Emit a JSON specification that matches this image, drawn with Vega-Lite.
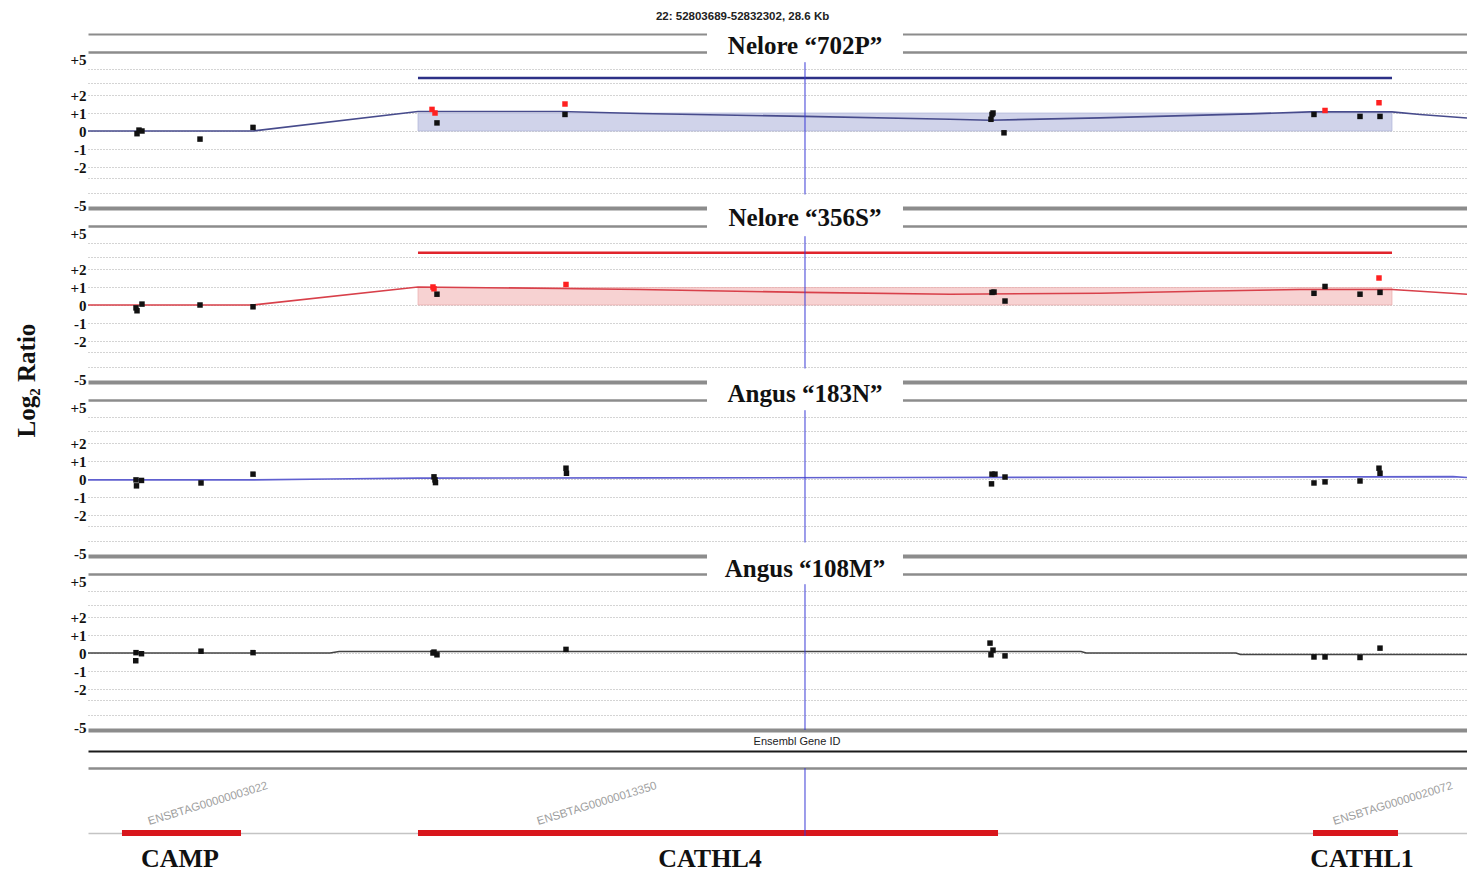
{
  "$schema": "https://vega.github.io/schema/vega-lite/v6.json",
  "padding": {"left": 14, "top": 10, "right": 0, "bottom": 0},
  "background": "white",
  "config": {"view": {"stroke": null}},
  "datasets": {
    "panels": [
      {"sample": "702P", "title": "Nelore “702P”", "cursor": 52818566},
      {"sample": "356S", "title": "Nelore “356S”", "cursor": 52818566},
      {"sample": "183N", "title": "Angus “183N”", "cursor": 52818566},
      {"sample": "108M", "title": "Angus “108M”", "cursor": 52818566}
    ],
    "track": [{"label": "Ensembl Gene ID", "pos": 52818400, "cursor": 52818566}],
    "aberrations": [
      {"sample": "702P", "start": 52810536, "end": 52830746, "top": 1.0, "level": 3.36},
      {"sample": "356S", "start": 52810536, "end": 52830746, "top": 0.97, "level": 3.3}
    ],
    "genes": [
      {"gene": "CAMP", "ensembl": "ENSBTAG00000003022", "start": 52804394, "end": 52806864, "mid": 52805598, "idPos": 52806179},
      {"gene": "CATHL4", "ensembl": "ENSBTAG00000013350", "start": 52810536, "end": 52822571, "mid": 52816595, "idPos": 52814250},
      {"gene": "CATHL1", "ensembl": "ENSBTAG00000020072", "start": 52829107, "end": 52830870, "mid": 52830123, "idPos": 52830766}
    ],
    "segments": [
      {"sample": "702P", "pos": 52803689, "seg": 0},
      {"sample": "702P", "pos": 52807113, "seg": 0},
      {"sample": "702P", "pos": 52810536, "seg": 1.08},
      {"sample": "702P", "pos": 52813483, "seg": 1.08},
      {"sample": "702P", "pos": 52815142, "seg": 0.97},
      {"sample": "702P", "pos": 52818566, "seg": 0.81},
      {"sample": "702P", "pos": 52821575, "seg": 0.65},
      {"sample": "702P", "pos": 52822405, "seg": 0.6},
      {"sample": "702P", "pos": 52824687, "seg": 0.73},
      {"sample": "702P", "pos": 52827799, "seg": 0.95},
      {"sample": "702P", "pos": 52829044, "seg": 1.06},
      {"sample": "702P", "pos": 52830746, "seg": 1.06},
      {"sample": "702P", "pos": 52831327, "seg": 0.92},
      {"sample": "702P", "pos": 52832302, "seg": 0.72},
      {"sample": "356S", "pos": 52803689, "seg": 0},
      {"sample": "356S", "pos": 52807113, "seg": 0},
      {"sample": "356S", "pos": 52810536, "seg": 1.0},
      {"sample": "356S", "pos": 52813483, "seg": 0.92},
      {"sample": "356S", "pos": 52815142, "seg": 0.86},
      {"sample": "356S", "pos": 52818566, "seg": 0.7},
      {"sample": "356S", "pos": 52821575, "seg": 0.6},
      {"sample": "356S", "pos": 52824687, "seg": 0.65},
      {"sample": "356S", "pos": 52826762, "seg": 0.76},
      {"sample": "356S", "pos": 52828837, "seg": 0.86},
      {"sample": "356S", "pos": 52830746, "seg": 0.86},
      {"sample": "356S", "pos": 52831327, "seg": 0.76},
      {"sample": "356S", "pos": 52832302, "seg": 0.6},
      {"sample": "183N", "pos": 52803689, "seg": -0.05},
      {"sample": "183N", "pos": 52807113, "seg": -0.05},
      {"sample": "183N", "pos": 52808710, "seg": 0.0},
      {"sample": "183N", "pos": 52810536, "seg": 0.05},
      {"sample": "183N", "pos": 52815142, "seg": 0.06},
      {"sample": "183N", "pos": 52820537, "seg": 0.08},
      {"sample": "183N", "pos": 52825932, "seg": 0.1},
      {"sample": "183N", "pos": 52832011, "seg": 0.13},
      {"sample": "183N", "pos": 52832302, "seg": 0.08},
      {"sample": "108M", "pos": 52803689, "seg": 0},
      {"sample": "108M", "pos": 52808710, "seg": 0},
      {"sample": "108M", "pos": 52808900, "seg": 0.08},
      {"sample": "108M", "pos": 52824293, "seg": 0.08},
      {"sample": "108M", "pos": 52824400, "seg": 0.0},
      {"sample": "108M", "pos": 52827509, "seg": 0.0},
      {"sample": "108M", "pos": 52827600, "seg": -0.08},
      {"sample": "108M", "pos": 52832302, "seg": -0.08}
    ],
    "probes": [
      {"sample": "702P", "pos": 52804706, "log2": -0.15, "status": "normal"},
      {"sample": "702P", "pos": 52804747, "log2": 0.05, "status": "normal"},
      {"sample": "702P", "pos": 52804809, "log2": 0.0, "status": "normal"},
      {"sample": "702P", "pos": 52806013, "log2": -0.45, "status": "normal"},
      {"sample": "702P", "pos": 52807113, "log2": 0.2, "status": "normal"},
      {"sample": "702P", "pos": 52810827, "log2": 1.2, "status": "gain"},
      {"sample": "702P", "pos": 52810889, "log2": 1.0, "status": "gain"},
      {"sample": "702P", "pos": 52810930, "log2": 0.45, "status": "normal"},
      {"sample": "702P", "pos": 52813586, "log2": 1.5, "status": "gain"},
      {"sample": "702P", "pos": 52813586, "log2": 0.92, "status": "normal"},
      {"sample": "702P", "pos": 52822425, "log2": 0.65, "status": "normal"},
      {"sample": "702P", "pos": 52822446, "log2": 0.92, "status": "normal"},
      {"sample": "702P", "pos": 52822467, "log2": 1.0, "status": "normal"},
      {"sample": "702P", "pos": 52822695, "log2": -0.1, "status": "normal"},
      {"sample": "702P", "pos": 52829127, "log2": 0.92, "status": "normal"},
      {"sample": "702P", "pos": 52829356, "log2": 1.14, "status": "gain"},
      {"sample": "702P", "pos": 52830082, "log2": 0.81, "status": "normal"},
      {"sample": "702P", "pos": 52830476, "log2": 1.57, "status": "gain"},
      {"sample": "702P", "pos": 52830497, "log2": 0.81, "status": "normal"},
      {"sample": "356S", "pos": 52804685, "log2": -0.16, "status": "normal"},
      {"sample": "356S", "pos": 52804706, "log2": -0.32, "status": "normal"},
      {"sample": "356S", "pos": 52804809, "log2": 0.05, "status": "normal"},
      {"sample": "356S", "pos": 52806013, "log2": 0.0, "status": "normal"},
      {"sample": "356S", "pos": 52807113, "log2": -0.1, "status": "normal"},
      {"sample": "356S", "pos": 52810847, "log2": 1.0, "status": "gain"},
      {"sample": "356S", "pos": 52810868, "log2": 0.9, "status": "gain"},
      {"sample": "356S", "pos": 52810930, "log2": 0.6, "status": "normal"},
      {"sample": "356S", "pos": 52813607, "log2": 1.14, "status": "gain"},
      {"sample": "356S", "pos": 52822446, "log2": 0.7, "status": "normal"},
      {"sample": "356S", "pos": 52822488, "log2": 0.72, "status": "normal"},
      {"sample": "356S", "pos": 52822716, "log2": 0.22, "status": "normal"},
      {"sample": "356S", "pos": 52829127, "log2": 0.65, "status": "normal"},
      {"sample": "356S", "pos": 52829356, "log2": 1.03, "status": "normal"},
      {"sample": "356S", "pos": 52830082, "log2": 0.6, "status": "normal"},
      {"sample": "356S", "pos": 52830476, "log2": 1.5, "status": "gain"},
      {"sample": "356S", "pos": 52830497, "log2": 0.7, "status": "normal"},
      {"sample": "183N", "pos": 52804685, "log2": -0.05, "status": "normal"},
      {"sample": "183N", "pos": 52804695, "log2": -0.38, "status": "normal"},
      {"sample": "183N", "pos": 52804799, "log2": -0.08, "status": "normal"},
      {"sample": "183N", "pos": 52806034, "log2": -0.22, "status": "normal"},
      {"sample": "183N", "pos": 52807113, "log2": 0.27, "status": "normal"},
      {"sample": "183N", "pos": 52810868, "log2": 0.12, "status": "normal"},
      {"sample": "183N", "pos": 52810889, "log2": -0.05, "status": "normal"},
      {"sample": "183N", "pos": 52810899, "log2": -0.2, "status": "normal"},
      {"sample": "183N", "pos": 52813607, "log2": 0.6, "status": "normal"},
      {"sample": "183N", "pos": 52813617, "log2": 0.32, "status": "normal"},
      {"sample": "183N", "pos": 52822446, "log2": 0.27, "status": "normal"},
      {"sample": "183N", "pos": 52822508, "log2": 0.27, "status": "normal"},
      {"sample": "183N", "pos": 52822436, "log2": -0.27, "status": "normal"},
      {"sample": "183N", "pos": 52822716, "log2": 0.11, "status": "normal"},
      {"sample": "183N", "pos": 52829127, "log2": -0.22, "status": "normal"},
      {"sample": "183N", "pos": 52829356, "log2": -0.16, "status": "normal"},
      {"sample": "183N", "pos": 52830082, "log2": -0.11, "status": "normal"},
      {"sample": "183N", "pos": 52830476, "log2": 0.6, "status": "normal"},
      {"sample": "183N", "pos": 52830497, "log2": 0.32, "status": "normal"},
      {"sample": "108M", "pos": 52804685, "log2": 0.02, "status": "normal"},
      {"sample": "108M", "pos": 52804680, "log2": -0.43, "status": "normal"},
      {"sample": "108M", "pos": 52804799, "log2": -0.04, "status": "normal"},
      {"sample": "108M", "pos": 52806034, "log2": 0.1, "status": "normal"},
      {"sample": "108M", "pos": 52807113, "log2": 0.02, "status": "normal"},
      {"sample": "108M", "pos": 52810847, "log2": 0.0, "status": "normal"},
      {"sample": "108M", "pos": 52810868, "log2": 0.05, "status": "normal"},
      {"sample": "108M", "pos": 52810930, "log2": -0.1, "status": "normal"},
      {"sample": "108M", "pos": 52813607, "log2": 0.2, "status": "normal"},
      {"sample": "108M", "pos": 52822405, "log2": 0.55, "status": "normal"},
      {"sample": "108M", "pos": 52822467, "log2": 0.16, "status": "normal"},
      {"sample": "108M", "pos": 52822425, "log2": -0.1, "status": "normal"},
      {"sample": "108M", "pos": 52822716, "log2": -0.16, "status": "normal"},
      {"sample": "108M", "pos": 52829127, "log2": -0.22, "status": "normal"},
      {"sample": "108M", "pos": 52829356, "log2": -0.22, "status": "normal"},
      {"sample": "108M", "pos": 52830082, "log2": -0.25, "status": "normal"},
      {"sample": "108M", "pos": 52830497, "log2": 0.27, "status": "normal"}
    ]
  },
  "title": {"text": "22: 52803689-52832302, 28.6 Kb", "font": "Liberation Sans", "fontSize": 11.5, "fontWeight": "bold", "color": "#222222", "anchor": "middle", "offset": 5},
  "vconcat": [
    {
      "title": {"text": "Log₂ Ratio", "orient": "left", "font": "Liberation Serif", "fontSize": 25, "fontWeight": "bold", "color": "#111111", "anchor": "middle", "offset": 30, "dx": 69},
      "spacing": 0,
      "bounds": "flush",
      "resolve": {"scale": {"x": "independent", "y": "independent"}},
      "vconcat": [
        {
          "width": 1379, "height": 174,
          "layer": [
            {"data": {"name": "aberrations"}, "transform": [{"filter": "datum.sample == '702P'"}],
             "mark": {"type": "rect", "fill": "#d0d3ea", "stroke": "#a6abd4", "strokeWidth": 0.6},
             "encoding": {
               "x": {"field": "start", "type": "quantitative", "scale": {"domain": [52803689, 52832302], "nice": false, "zero": false}, "axis": null},
               "x2": {"field": "end"},
               "y": {"field": "top", "type": "quantitative", "scale": {"domain": [-5,-4,-3,-2,-1,0,1,2,3,4,5,6], "range": [174,159,144,133,115,97,79,61,49,35,18,0]}, "axis": {
                 "values": [-5,-4,-3,-2,-1,0,1,2,3,4,5,6], "tickCount": 50, "title": null, "domain": false, "ticks": false, "grid": true,
                 "labelExpr": "datum.value==5 ? '+5' : datum.value==2 ? '+2' : datum.value==1 ? '+1' : datum.value==0 ? '0' : datum.value==-1 ? '-1' : datum.value==-2 ? '-2' : datum.value==-5 ? '-5' : ''",
                 "labelFont": "Liberation Serif", "labelFontSize": 15, "labelFontWeight": "bold", "labelColor": "#111111", "labelPadding": 2, "labelOverlap": false, "labelBound": false, "labelFlush": false,
                 "labelOffset": {"condition": [{"test": "datum.value == 5", "value": 7}, {"test": "datum.value == -5", "value": -3}], "value": 0},
                 "gridColor": {"condition": {"test": "abs(datum.value) >= 5", "value": "#8c8c8c"}, "value": "#a8a8a8"},
                 "gridWidth": {"condition": [{"test": "datum.value == -5", "value": 4}, {"test": "datum.value == 5", "value": 2.5}, {"test": "datum.value == 6", "value": 2}], "value": 1},
                 "gridDash": {"condition": {"test": "abs(datum.value) >= 5", "value": []}, "value": [1, 2]}}},
               "y2": {"datum": 0}}},
            {"data": {"name": "aberrations"}, "transform": [{"filter": "datum.sample == '702P'"}],
             "mark": {"type": "rule", "color": "#2c3086", "strokeWidth": 2.5},
             "encoding": {"x": {"field": "start", "type": "quantitative", "axis": null}, "x2": {"field": "end"}, "y": {"field": "level", "type": "quantitative", "title": null}}},
            {"data": {"name": "segments"}, "transform": [{"filter": "datum.sample == '702P'"}],
             "mark": {"type": "line", "color": "#474b8c", "strokeWidth": 1.6},
             "encoding": {"x": {"field": "pos", "type": "quantitative", "axis": null}, "y": {"field": "seg", "type": "quantitative", "title": null}}},
            {"data": {"name": "probes"}, "transform": [{"filter": "datum.sample == '702P'"}],
             "mark": {"type": "point", "shape": "square", "filled": true, "size": 30, "opacity": 1},
             "encoding": {"x": {"field": "pos", "type": "quantitative", "axis": null}, "y": {"field": "log2", "type": "quantitative", "title": null},
               "color": {"field": "status", "type": "nominal", "scale": {"domain": ["normal", "gain"], "range": ["#111111", "#ff2020"]}, "legend": null}}},
            {"data": {"name": "panels"}, "transform": [{"filter": "datum.sample == '702P'"}],
             "mark": {"type": "rule", "color": "#3b3bd6", "strokeWidth": 1},
             "encoding": {"x": {"field": "cursor", "type": "quantitative", "axis": null}, "y": {"datum": 4.4, "title": null}, "y2": {"datum": -4.1}}},
            {"data": {"name": "panels"}, "transform": [{"filter": "datum.sample == '702P'"}],
             "mark": {"type": "point", "shape": "M-1,-0.133L1,-0.133L1,0.133L-1,0.133Z", "filled": true, "color": "white", "opacity": 1, "size": 38416, "strokeWidth": 0},
             "encoding": {"x": {"field": "cursor", "type": "quantitative", "axis": null}, "y": {"datum": 5.5, "title": null}}},
            {"data": {"name": "panels"}, "transform": [{"filter": "datum.sample == '702P'"}],
             "mark": {"type": "text", "font": "Liberation Serif", "fontSize": 25, "fontWeight": "bold", "color": "#111111", "baseline": "middle"},
             "encoding": {"x": {"field": "cursor", "type": "quantitative", "axis": null}, "y": {"datum": 5.35, "title": null}, "text": {"field": "title"}}}
          ]
        },
        {
          "width": 1379, "height": 174,
          "layer": [
            {"data": {"name": "aberrations"}, "transform": [{"filter": "datum.sample == '356S'"}],
             "mark": {"type": "rect", "fill": "#f7d2d2", "stroke": "#eaa2a2", "strokeWidth": 0.6},
             "encoding": {
               "x": {"field": "start", "type": "quantitative", "scale": {"domain": [52803689, 52832302], "nice": false, "zero": false}, "axis": null},
               "x2": {"field": "end"},
               "y": {"field": "top", "type": "quantitative", "scale": {"domain": [-5,-4,-3,-2,-1,0,1,2,3,4,5,6], "range": [174,159,144,133,115,97,79,61,49,35,18,0]}, "axis": {
                 "values": [-5,-4,-3,-2,-1,0,1,2,3,4,5], "tickCount": 50, "title": null, "domain": false, "ticks": false, "grid": true,
                 "labelExpr": "datum.value==5 ? '+5' : datum.value==2 ? '+2' : datum.value==1 ? '+1' : datum.value==0 ? '0' : datum.value==-1 ? '-1' : datum.value==-2 ? '-2' : datum.value==-5 ? '-5' : ''",
                 "labelFont": "Liberation Serif", "labelFontSize": 15, "labelFontWeight": "bold", "labelColor": "#111111", "labelPadding": 2, "labelOverlap": false, "labelBound": false, "labelFlush": false,
                 "labelOffset": {"condition": [{"test": "datum.value == 5", "value": 7}, {"test": "datum.value == -5", "value": -3}], "value": 0},
                 "gridColor": {"condition": {"test": "abs(datum.value) >= 5", "value": "#8c8c8c"}, "value": "#a8a8a8"},
                 "gridWidth": {"condition": [{"test": "datum.value == -5", "value": 4}, {"test": "datum.value == 5", "value": 2.5}], "value": 1},
                 "gridDash": {"condition": {"test": "abs(datum.value) >= 5", "value": []}, "value": [1, 2]}}},
               "y2": {"datum": 0}}},
            {"data": {"name": "aberrations"}, "transform": [{"filter": "datum.sample == '356S'"}],
             "mark": {"type": "rule", "color": "#e0242c", "strokeWidth": 2.5},
             "encoding": {"x": {"field": "start", "type": "quantitative", "axis": null}, "x2": {"field": "end"}, "y": {"field": "level", "type": "quantitative", "title": null}}},
            {"data": {"name": "segments"}, "transform": [{"filter": "datum.sample == '356S'"}],
             "mark": {"type": "line", "color": "#d8404a", "strokeWidth": 1.6},
             "encoding": {"x": {"field": "pos", "type": "quantitative", "axis": null}, "y": {"field": "seg", "type": "quantitative", "title": null}}},
            {"data": {"name": "probes"}, "transform": [{"filter": "datum.sample == '356S'"}],
             "mark": {"type": "point", "shape": "square", "filled": true, "size": 30, "opacity": 1},
             "encoding": {"x": {"field": "pos", "type": "quantitative", "axis": null}, "y": {"field": "log2", "type": "quantitative", "title": null},
               "color": {"field": "status", "type": "nominal", "scale": {"domain": ["normal", "gain"], "range": ["#111111", "#ff2020"]}, "legend": null}}},
            {"data": {"name": "panels"}, "transform": [{"filter": "datum.sample == '356S'"}],
             "mark": {"type": "rule", "color": "#3b3bd6", "strokeWidth": 1},
             "encoding": {"x": {"field": "cursor", "type": "quantitative", "axis": null}, "y": {"datum": 4.4, "title": null}, "y2": {"datum": -4.1}}},
            {"data": {"name": "panels"}, "transform": [{"filter": "datum.sample == '356S'"}],
             "mark": {"type": "point", "shape": "M-1,-0.133L1,-0.133L1,0.133L-1,0.133Z", "filled": true, "color": "white", "opacity": 1, "size": 38416, "strokeWidth": 0},
             "encoding": {"x": {"field": "cursor", "type": "quantitative", "axis": null}, "y": {"datum": 5.5, "title": null}}},
            {"data": {"name": "panels"}, "transform": [{"filter": "datum.sample == '356S'"}],
             "mark": {"type": "text", "font": "Liberation Serif", "fontSize": 25, "fontWeight": "bold", "color": "#111111", "baseline": "middle"},
             "encoding": {"x": {"field": "cursor", "type": "quantitative", "axis": null}, "y": {"datum": 5.45, "title": null}, "text": {"field": "title"}}}
          ]
        },
        {
          "width": 1379, "height": 174,
          "layer": [
            {"data": {"name": "segments"}, "transform": [{"filter": "datum.sample == '183N'"}],
             "mark": {"type": "line", "color": "#6060d0", "strokeWidth": 1.6},
             "encoding": {"x": {"field": "pos", "type": "quantitative", "scale": {"domain": [52803689, 52832302], "nice": false, "zero": false}, "axis": null},
               "y": {"field": "seg", "type": "quantitative", "scale": {"domain": [-5,-4,-3,-2,-1,0,1,2,3,4,5,6], "range": [174,159,144,133,115,97,79,61,49,35,18,0]}, "axis": {
                 "values": [-5,-4,-3,-2,-1,0,1,2,3,4,5], "tickCount": 50, "title": null, "domain": false, "ticks": false, "grid": true,
                 "labelExpr": "datum.value==5 ? '+5' : datum.value==2 ? '+2' : datum.value==1 ? '+1' : datum.value==0 ? '0' : datum.value==-1 ? '-1' : datum.value==-2 ? '-2' : datum.value==-5 ? '-5' : ''",
                 "labelFont": "Liberation Serif", "labelFontSize": 15, "labelFontWeight": "bold", "labelColor": "#111111", "labelPadding": 2, "labelOverlap": false, "labelBound": false, "labelFlush": false,
                 "labelOffset": {"condition": [{"test": "datum.value == 5", "value": 7}, {"test": "datum.value == -5", "value": -3}], "value": 0},
                 "gridColor": {"condition": {"test": "abs(datum.value) >= 5", "value": "#8c8c8c"}, "value": "#a8a8a8"},
                 "gridWidth": {"condition": [{"test": "datum.value == -5", "value": 4}, {"test": "datum.value == 5", "value": 2.5}], "value": 1},
                 "gridDash": {"condition": {"test": "abs(datum.value) >= 5", "value": []}, "value": [1, 2]}}}}},
            {"data": {"name": "probes"}, "transform": [{"filter": "datum.sample == '183N'"}],
             "mark": {"type": "point", "shape": "square", "filled": true, "size": 30, "opacity": 1},
             "encoding": {"x": {"field": "pos", "type": "quantitative", "axis": null}, "y": {"field": "log2", "type": "quantitative", "title": null},
               "color": {"field": "status", "type": "nominal", "scale": {"domain": ["normal", "gain"], "range": ["#111111", "#ff2020"]}, "legend": null}}},
            {"data": {"name": "panels"}, "transform": [{"filter": "datum.sample == '183N'"}],
             "mark": {"type": "rule", "color": "#3b3bd6", "strokeWidth": 1},
             "encoding": {"x": {"field": "cursor", "type": "quantitative", "axis": null}, "y": {"datum": 4.4, "title": null}, "y2": {"datum": -4.1}}},
            {"data": {"name": "panels"}, "transform": [{"filter": "datum.sample == '183N'"}],
             "mark": {"type": "point", "shape": "M-1,-0.133L1,-0.133L1,0.133L-1,0.133Z", "filled": true, "color": "white", "opacity": 1, "size": 38416, "strokeWidth": 0},
             "encoding": {"x": {"field": "cursor", "type": "quantitative", "axis": null}, "y": {"datum": 5.5, "title": null}}},
            {"data": {"name": "panels"}, "transform": [{"filter": "datum.sample == '183N'"}],
             "mark": {"type": "text", "font": "Liberation Serif", "fontSize": 25, "fontWeight": "bold", "color": "#111111", "baseline": "middle"},
             "encoding": {"x": {"field": "cursor", "type": "quantitative", "axis": null}, "y": {"datum": 5.35, "title": null}, "text": {"field": "title"}}}
          ]
        },
        {
          "width": 1379, "height": 174,
          "layer": [
            {"data": {"name": "segments"}, "transform": [{"filter": "datum.sample == '108M'"}],
             "mark": {"type": "line", "color": "#444444", "strokeWidth": 1.6},
             "encoding": {"x": {"field": "pos", "type": "quantitative", "scale": {"domain": [52803689, 52832302], "nice": false, "zero": false}, "axis": null},
               "y": {"field": "seg", "type": "quantitative", "scale": {"domain": [-5,-4,-3,-2,-1,0,1,2,3,4,5,6], "range": [174,159,144,133,115,97,79,61,49,35,18,0]}, "axis": {
                 "values": [-5,-4,-3,-2,-1,0,1,2,3,4,5], "tickCount": 50, "title": null, "domain": false, "ticks": false, "grid": true,
                 "labelExpr": "datum.value==5 ? '+5' : datum.value==2 ? '+2' : datum.value==1 ? '+1' : datum.value==0 ? '0' : datum.value==-1 ? '-1' : datum.value==-2 ? '-2' : datum.value==-5 ? '-5' : ''",
                 "labelFont": "Liberation Serif", "labelFontSize": 15, "labelFontWeight": "bold", "labelColor": "#111111", "labelPadding": 2, "labelOverlap": false, "labelBound": false, "labelFlush": false,
                 "labelOffset": {"condition": [{"test": "datum.value == 5", "value": 7}, {"test": "datum.value == -5", "value": -3}], "value": 0},
                 "gridColor": {"condition": {"test": "abs(datum.value) >= 5", "value": "#8c8c8c"}, "value": "#a8a8a8"},
                 "gridWidth": {"condition": [{"test": "datum.value == -5", "value": 4}, {"test": "datum.value == 5", "value": 2.5}], "value": 1},
                 "gridDash": {"condition": {"test": "abs(datum.value) >= 5", "value": []}, "value": [1, 2]}}}}},
            {"data": {"name": "probes"}, "transform": [{"filter": "datum.sample == '108M'"}],
             "mark": {"type": "point", "shape": "square", "filled": true, "size": 30, "opacity": 1},
             "encoding": {"x": {"field": "pos", "type": "quantitative", "axis": null}, "y": {"field": "log2", "type": "quantitative", "title": null},
               "color": {"field": "status", "type": "nominal", "scale": {"domain": ["normal", "gain"], "range": ["#111111", "#ff2020"]}, "legend": null}}},
            {"data": {"name": "panels"}, "transform": [{"filter": "datum.sample == '108M'"}],
             "mark": {"type": "rule", "color": "#3b3bd6", "strokeWidth": 1},
             "encoding": {"x": {"field": "cursor", "type": "quantitative", "axis": null}, "y": {"datum": 4.4, "title": null}, "y2": {"datum": -5}}},
            {"data": {"name": "panels"}, "transform": [{"filter": "datum.sample == '108M'"}],
             "mark": {"type": "point", "shape": "M-1,-0.133L1,-0.133L1,0.133L-1,0.133Z", "filled": true, "color": "white", "opacity": 1, "size": 38416, "strokeWidth": 0},
             "encoding": {"x": {"field": "cursor", "type": "quantitative", "axis": null}, "y": {"datum": 5.5, "title": null}}},
            {"data": {"name": "panels"}, "transform": [{"filter": "datum.sample == '108M'"}],
             "mark": {"type": "text", "font": "Liberation Serif", "fontSize": 25, "fontWeight": "bold", "color": "#111111", "baseline": "middle"},
             "encoding": {"x": {"field": "cursor", "type": "quantitative", "axis": null}, "y": {"datum": 5.3, "title": null}, "text": {"field": "title"}}}
          ]
        },
        {
          "width": 1379, "height": 142,
          "layer": [
            {"data": {"name": "genes"},
             "mark": {"type": "rule", "color": "#d8161c", "strokeWidth": 6},
             "encoding": {
               "x": {"field": "start", "type": "quantitative", "scale": {"domain": [52803689, 52832302], "nice": false, "zero": false}, "axis": null},
               "x2": {"field": "end"},
               "y": {"datum": 3.9, "type": "quantitative", "scale": {"domain": [0, 14.2], "nice": false, "zero": false}, "axis": {
                 "values": [3.9, 10.4, 12.1], "tickCount": 50, "title": null, "domain": false, "ticks": false, "labels": false, "grid": true,
                 "gridColor": {"condition": [{"test": "datum.value > 12", "value": "#1a1a1a"}, {"test": "datum.value > 10", "value": "#8c8c8c"}], "value": "#c4c4c4"},
                 "gridWidth": {"condition": [{"test": "datum.value > 12", "value": 2}, {"test": "datum.value > 10", "value": 2.5}], "value": 1.5}}}}},
            {"data": {"name": "genes"},
             "mark": {"type": "text", "font": "Liberation Serif", "fontSize": 26, "fontWeight": "bold", "color": "#111111", "baseline": "middle"},
             "encoding": {"x": {"field": "mid", "type": "quantitative", "axis": null}, "y": {"datum": 1.3}, "text": {"field": "gene"}}},
            {"data": {"name": "genes"},
             "mark": {"type": "text", "font": "Liberation Sans", "fontSize": 11.5, "color": "#a0a0a0", "angle": 343, "baseline": "middle"},
             "encoding": {"x": {"field": "idPos", "type": "quantitative", "axis": null}, "y": {"datum": 6.8}, "text": {"field": "ensembl"}}},
            {"data": {"name": "track"},
             "mark": {"type": "rule", "color": "#3b3bd6", "strokeWidth": 1},
             "encoding": {"x": {"field": "cursor", "type": "quantitative", "axis": null}, "y": {"datum": 10.4}, "y2": {"datum": 3.6}}},
            {"data": {"name": "track"},
             "mark": {"type": "text", "font": "Liberation Sans", "fontSize": 11, "color": "#222222", "baseline": "middle"},
             "encoding": {"x": {"field": "pos", "type": "quantitative", "axis": null}, "y": {"datum": 13.0}, "text": {"field": "label"}}}
          ]
        }
      ]
    }
  ]
}
